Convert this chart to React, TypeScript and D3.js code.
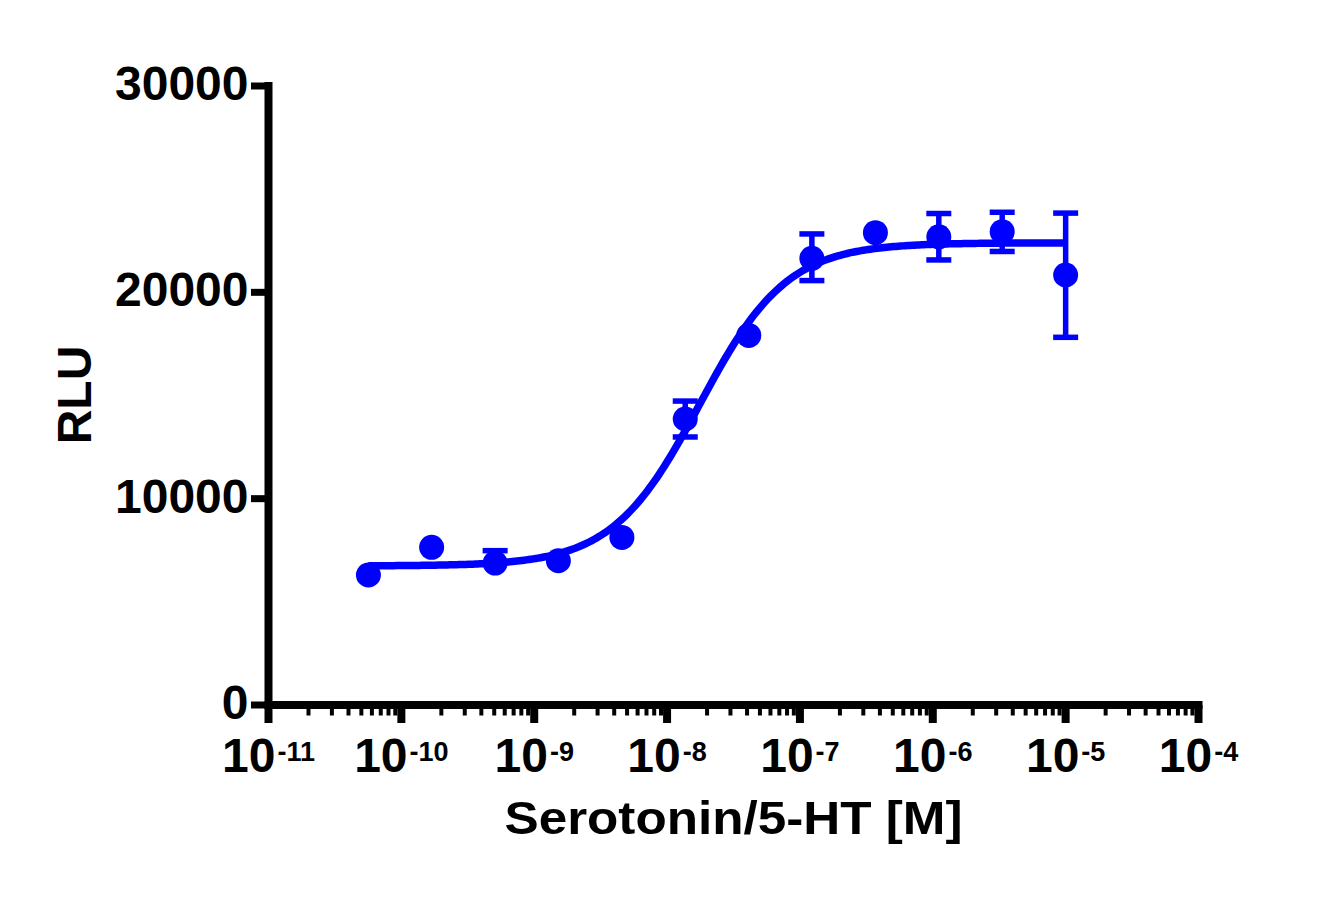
import * as d3 from 'd3';
import { useEffect, useRef } from 'react';

// serotonin concentrations [M] (3-fold dilution series)
const concentrations = [5.65e-11, 1.69e-10, 5.08e-10, 1.52e-9, 4.57e-9, 1.37e-8, 4.12e-8, 1.23e-7, 3.7e-7, 1.11e-6, 3.33e-6, 1.0e-5];
// mean RLU
const rluMean = [6300, 7640, 6880, 6990, 8120, 13860, 17910, 21650, 22890, 22690, 22940, 20840];
// visible error bar extents above / below the mean (0 = hidden behind the symbol)
const errUp = [0, 0, 600, 0, 0, 870, 0, 1180, 0, 1130, 940, 3000];
const errDown = [0, 0, 0, 0, 0, 870, 0, 1080, 0, 1120, 960, 3020];

// fitted 4PL curve (log(agonist) vs response, variable slope)
const fitBottom = 6740;
const fitTop = 22400;
const fitLogEC50 = -7.755;
const fitHill = 1.32;

const yTicks = [0, 10000, 20000, 30000];
const xDecades = [-11, -10, -9, -8, -7, -6, -5, -4];
const minorSteps = [2, 3, 4, 5, 6, 7, 8, 9];

const xTitle = 'Serotonin/5-HT [M]';
const yTitle = 'RLU';

const W = 1341;
const H = 902;
const plot = { left: 268.5, right: 1198.5, top: 86, bottom: 705 };
const blue = '#0000ff';
const font = '"Liberation Sans", Arial, Helvetica, sans-serif';

function fourPL(logX: number) {
    return fitBottom + (fitTop - fitBottom) / (1 + Math.pow(10, (fitLogEC50 - logX) * fitHill));
}

const App = () => {
    const ref = useRef<SVGSVGElement | null>(null);

    useEffect(() => {
        document.body.style.margin = '0';
        const svg = d3.select(ref.current!);
        svg.selectAll('*').remove();

        const xScale = d3.scaleLog()
            .domain([Math.pow(10, xDecades[0]), Math.pow(10, xDecades[xDecades.length - 1])])
            .range([plot.left, plot.right]);

        const yScale = d3.scaleLinear()
            .domain([0, 30000])
            .range([plot.bottom, plot.top]);

        const g = svg.append('g');

        // minor x ticks
        const minorTicks = xDecades.slice(0, -1).flatMap(d => minorSteps.map(k => k * Math.pow(10, d)));
        g.selectAll('.minor')
            .data(minorTicks)
            .enter()
            .append('line')
            .attr('x1', d => xScale(d))
            .attr('x2', d => xScale(d))
            .attr('y1', plot.bottom)
            .attr('y2', plot.bottom + 10.5)
            .attr('stroke', '#000')
            .attr('stroke-width', 4);

        // major x ticks
        g.selectAll('.major')
            .data(xDecades)
            .enter()
            .append('line')
            .attr('x1', d => xScale(Math.pow(10, d)))
            .attr('x2', d => xScale(Math.pow(10, d)))
            .attr('y1', plot.bottom)
            .attr('y2', plot.bottom + 18)
            .attr('stroke', '#000')
            .attr('stroke-width', 8);

        // y ticks
        g.selectAll('.ytick')
            .data(yTicks)
            .enter()
            .append('line')
            .attr('x1', plot.left)
            .attr('x2', plot.left - 17.5)
            .attr('y1', d => yScale(d))
            .attr('y2', d => yScale(d))
            .attr('stroke', '#000')
            .attr('stroke-width', 7);

        // axis lines
        g.append('line')
            .attr('x1', plot.left).attr('x2', plot.left)
            .attr('y1', yScale(30000)).attr('y2', yScale(0))
            .attr('stroke', '#000').attr('stroke-width', 8)
            .attr('stroke-linecap', 'square');
        g.append('line')
            .attr('x1', xScale(1e-11)).attr('x2', xScale(1e-4))
            .attr('y1', yScale(0)).attr('y2', yScale(0))
            .attr('stroke', '#000').attr('stroke-width', 8)
            .attr('stroke-linecap', 'square');

        // y tick labels
        g.selectAll('.ylabel')
            .data(yTicks)
            .enter()
            .append('text')
            .attr('x', plot.left - 20)
            .attr('y', d => yScale(d) + 14)
            .attr('text-anchor', 'end')
            .attr('font-family', font)
            .attr('font-weight', 'bold')
            .attr('font-size', 48)
            .text(d => String(d));

        // x tick labels 10^n
        const xl = g.selectAll('.xlabel')
            .data(xDecades)
            .enter()
            .append('text')
            .attr('x', d => xScale(Math.pow(10, d)))
            .attr('y', plot.bottom + 67)
            .attr('text-anchor', 'middle')
            .attr('font-family', font)
            .attr('font-weight', 'bold')
            .attr('font-size', 48);
        xl.append('tspan').text('10');
        xl.append('tspan')
            .attr('font-size', 27)
            .attr('dx', 2)
            .attr('dy', -11)
            .text(d => String(d));

        // axis titles
        g.append('text')
            .attr('x', (plot.left + plot.right) / 2)
            .attr('y', 834)
            .attr('text-anchor', 'middle')
            .attr('font-family', font)
            .attr('font-weight', 'bold')
            .attr('font-size', 46)
            .attr('textLength', 458)
            .attr('lengthAdjust', 'spacingAndGlyphs')
            .text(xTitle);

        g.append('text')
            .attr('transform', 'translate(91,395) rotate(-90)')
            .attr('text-anchor', 'middle')
            .attr('font-family', font)
            .attr('font-weight', 'bold')
            .attr('font-size', 48)
            .text(yTitle);

        // fitted curve
        const logMin = Math.log10(concentrations[0]);
        const logMax = Math.log10(concentrations[concentrations.length - 1]);
        const curvePts = d3.range(0, 301).map(i => logMin + (logMax - logMin) * i / 300);
        const line = d3.line<number>()
            .x(l => xScale(Math.pow(10, l)))
            .y(l => yScale(fourPL(l)));
        g.append('path')
            .datum(curvePts)
            .attr('d', line)
            .attr('fill', 'none')
            .attr('stroke', blue)
            .attr('stroke-width', 7.5);

        // error bars
        const points = concentrations.map((c, i) => ({ c, m: rluMean[i], up: errUp[i], down: errDown[i] }));
        const bars = g.selectAll('.err')
            .data(points.filter(p => p.up > 0 || p.down > 0))
            .enter()
            .append('g')
            .attr('stroke', blue)
            .attr('stroke-width', 5.5);
        bars.append('line')
            .attr('x1', p => xScale(p.c)).attr('x2', p => xScale(p.c))
            .attr('y1', p => yScale(p.m - p.down)).attr('y2', p => yScale(p.m + p.up));
        bars.filter(p => p.up > 0)
            .append('line')
            .attr('x1', p => xScale(p.c) - 12.5).attr('x2', p => xScale(p.c) + 12.5)
            .attr('y1', p => yScale(p.m + p.up)).attr('y2', p => yScale(p.m + p.up));
        bars.filter(p => p.down > 0)
            .append('line')
            .attr('x1', p => xScale(p.c) - 12.5).attr('x2', p => xScale(p.c) + 12.5)
            .attr('y1', p => yScale(p.m - p.down)).attr('y2', p => yScale(p.m - p.down));

        // symbols
        g.selectAll('.dot')
            .data(points)
            .enter()
            .append('circle')
            .attr('cx', p => xScale(p.c))
            .attr('cy', p => yScale(p.m))
            .attr('r', 12.5)
            .attr('fill', blue);
    }, []);

    return <svg ref={ref} width={W} height={H} style={{ position: 'absolute', left: 0, top: 0, background: '#fff' }} />;
};

export default App;
